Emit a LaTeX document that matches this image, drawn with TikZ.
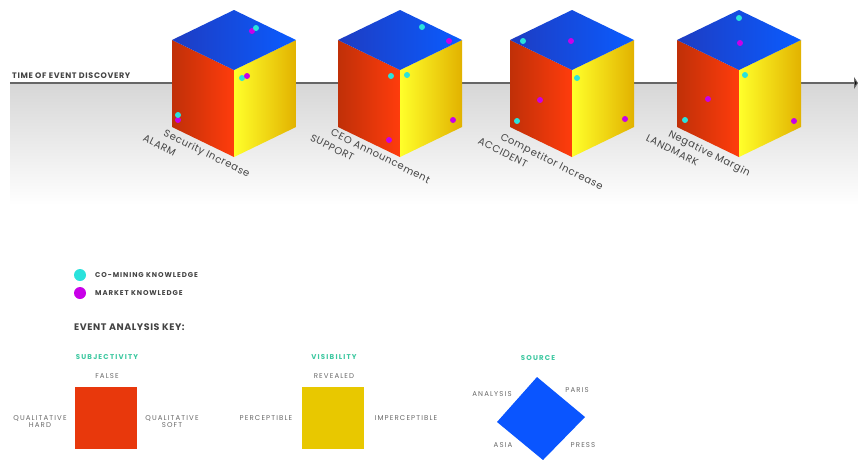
\documentclass[tikz,border=0pt]{standalone}
\usepackage{fontspec}
\setmainfont{Poppins}
\usetikzlibrary{arrows.meta}
\definecolor{redL}{HTML}{C03008}
\definecolor{redR}{HTML}{FF3C0C}
\definecolor{yelL}{HTML}{FFFF2A}
\definecolor{yelR}{HTML}{E2B200}
\definecolor{bluL}{HTML}{1E3CC2}
\definecolor{bluR}{HTML}{0A5CFF}
\definecolor{cyanD}{HTML}{2AE2DC}
\definecolor{magD}{HTML}{C800E8}
\definecolor{teal}{HTML}{3CC8A0}
\definecolor{txt}{HTML}{444444}
\definecolor{keyred}{HTML}{E8380C}
\definecolor{keyyel}{HTML}{E8C800}
\definecolor{keyblu}{HTML}{0A55FF}
\tikzset{
  pics/cube/.style={code={
    \shade[left color=redL, right color=redR] (0,0) -- (-62,-30) -- (-62,57) -- (0,87) -- cycle;
    \shade[left color=yelL, right color=yelR] (0,0) -- (62,-30) -- (62,57) -- (0,87) -- cycle;
    \shade[left color=bluL, right color=bluR] (0,0) -- (-62,-30) -- (0,-60) -- (62,-30) -- cycle;
  }},
  cdot/.style={circle, fill=cyanD, inner sep=0pt, minimum size=6pt},
  mdot/.style={circle, fill=magD, inner sep=0pt, minimum size=6pt},
  evlabel/.style={rotate=-26.6, anchor=north west, inner sep=0pt, align=left, text=txt,
    font=\fontsize{10}{14}\selectfont\addfontfeature{LetterSpace=6}},
  capsb/.style={text=txt, font=\bfseries\fontsize{7}{8}\selectfont\addfontfeature{LetterSpace=6}, inner sep=0pt},
  capsn/.style={text=txt!80, font=\fontsize{7}{7}\selectfont\addfontfeature{LetterSpace=16}, inner sep=0pt, align=center},
  keyhead/.style={text=teal, font=\bfseries\fontsize{7}{7}\selectfont\addfontfeature{LetterSpace=17}, inner sep=0pt},
}
\begin{document}
\begin{tikzpicture}[x=1pt,y=-1pt]
\useasboundingbox (0,0) rectangle (858,459);
\fill[white] (0,0) rectangle (858,459);
% floor gradient
\shade[top color=black!16, bottom color=white] (10,83) rectangle (858,205);
% timeline
\node[capsb, anchor=west, font=\bfseries\fontsize{8}{9}\selectfont\addfontfeature{LetterSpace=8}] (ttl) at (12,76) {TIME OF EVENT DISCOVERY};
\coordinate (tlS) at (10,83);
\coordinate (tlE) at (858,83);
\draw[line width=1.4pt, black!60, -{Triangle[length=4pt,width=12pt,fill=black]}] (tlS) -- (tlE);
% cubes
\foreach \cx in {234,400,572,739} {
  \pic at (\cx,70) {cube};
}
% event labels
\node[evlabel] (e1) at (152,121) {\hspace*{16pt}Security Increase\\ALARM};
\node[evlabel] (e2) at (319,121) {\hspace*{16pt}CEO Announcement\\SUPPORT};
\node[evlabel] (e3) at (487,124) {\hspace*{18pt}Competitor Increase\\ACCIDENT};
\node[evlabel] (e4) at (655,121) {\hspace*{18pt}Negative Margin\\LANDMARK};
% dots cube 1
\node[mdot] (d1a) at (252,31) {};
\node[cdot] (d1b) at (256,28) {};
\node[cdot] (d1c) at (242,78) {};
\node[mdot] (d1d) at (247,76) {};
\node[mdot] (d1e) at (178,120) {};
\node[cdot] (d1f) at (178,115) {};
% dots cube 2
\node[cdot] (d2a) at (422,27) {};
\node[mdot] (d2b) at (449,41) {};
\node[cdot] (d2c) at (391,76) {};
\node[cdot] (d2d) at (407,75) {};
\node[mdot] (d2e) at (453,120) {};
\node[mdot] (d2f) at (389,140) {};
% dots cube 3
\node[cdot] (d3a) at (523,41) {};
\node[mdot] (d3b) at (571,41) {};
\node[cdot] (d3c) at (577,78) {};
\node[mdot] (d3d) at (540,100) {};
\node[cdot] (d3e) at (517,121) {};
\node[mdot] (d3f) at (625,119) {};
% dots cube 4
\node[cdot] (d4a) at (739,18) {};
\node[mdot] (d4b) at (740,43) {};
\node[cdot] (d4c) at (745,75) {};
\node[mdot] (d4d) at (708,99) {};
\node[cdot] (d4e) at (685,120) {};
\node[mdot] (d4f) at (794,121) {};
% legend
\node[circle, fill=cyanD, inner sep=0pt, minimum size=12pt] (lc) at (80,275) {};
\node[circle, fill=magD, inner sep=0pt, minimum size=12pt] (lm) at (80,293) {};
\node[capsb, anchor=west, font=\bfseries\fontsize{7}{8}\selectfont\addfontfeature{LetterSpace=13}] (lct) at (95,275) {CO-MINING KNOWLEDGE};
\node[capsb, anchor=west, font=\bfseries\fontsize{7}{8}\selectfont\addfontfeature{LetterSpace=13}] (lmt) at (95,293) {MARKET KNOWLEDGE};
\node[capsb, anchor=west, font=\bfseries\fontsize{9.5}{10}\selectfont\addfontfeature{LetterSpace=6}] (key) at (74,327) {EVENT ANALYSIS KEY:};
% subjectivity
\node[keyhead] (subh) at (107,357) {SUBJECTIVITY};
\node[capsn] (subt) at (107,376) {FALSE};
\node[fill=keyred, minimum size=62pt, inner sep=0pt] (subq) at (106,418) {};
\node[capsn] (subl) at (40,422) {QUALITATIVE\\HARD};
\node[capsn] (subr) at (172,422) {QUALITATIVE\\SOFT};
\node[capsn] (subb) at (107,463) {TRUE};
% visibility
\node[keyhead] (vish) at (334,357) {VISIBILITY};
\node[capsn] (vist) at (334,376) {REVEALED};
\node[fill=keyyel, minimum size=62pt, inner sep=0pt] (visq) at (333,418) {};
\node[capsn] (visl) at (266,418) {PERCEPTIBLE};
\node[capsn] (visr) at (406,418) {IMPERCEPTIBLE};
\node[capsn] (visb) at (334,463) {UNKNOWN};
% source
\node[keyhead] (srch) at (538,358) {SOURCE};
\coordinate (sT) at (537,377);
\coordinate (sR) at (585,417);
\coordinate (sB) at (543,460);
\coordinate (sL) at (497,422);
\fill[keyblu] (sT) -- (sR) -- (sB) -- (sL) -- cycle;
\node[capsn] (sa) at (492,394) {ANALYSIS};
\node[capsn] (sp) at (577,390) {PARIS};
\node[capsn] (ss) at (503,445) {ASIA};
\node[capsn] (sr) at (583,445) {PRESS};
\end{tikzpicture}
\end{document}
